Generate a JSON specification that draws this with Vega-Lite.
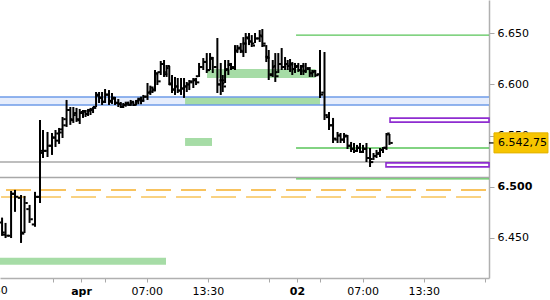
{
  "$schema": "https://vega.github.io/schema/vega-lite/v6.json",
  "width": 489,
  "height": 278,
  "autosize": {"type": "none"},
  "padding": {"left": 0, "top": 0, "right": 61, "bottom": 22},
  "background": "white",
  "config": {"view": {"stroke": null}, "font": "DejaVu Sans"},
  "datasets": {
    "bars": [
      {"t": -8.41, "o": 6.465, "h": 6.4697, "l": 6.4518, "c": 6.453},
      {"t": -8.04, "o": 6.455, "h": 6.4645, "l": 6.4497, "c": 6.452},
      {"t": -7.45, "o": 6.452, "h": 6.4958, "l": 6.4497, "c": 6.493},
      {"t": -7.03, "o": 6.493, "h": 6.4968, "l": 6.4753, "c": 6.49},
      {"t": -6.39, "o": 6.489, "h": 6.4918, "l": 6.4449, "c": 6.454},
      {"t": -6.02, "o": 6.455, "h": 6.4909, "l": 6.4546, "c": 6.484},
      {"t": -5.48, "o": 6.478, "h": 6.4821, "l": 6.4645, "c": 6.468},
      {"t": -4.9, "o": 6.463, "h": 6.4949, "l": 6.4607, "c": 6.49},
      {"t": -4.37, "o": 6.49, "h": 6.5652, "l": 6.484, "c": 6.535},
      {"t": -4.05, "o": 6.533, "h": 6.5554, "l": 6.528, "c": 6.535},
      {"t": -3.57, "o": 6.535, "h": 6.5535, "l": 6.529, "c": 6.54},
      {"t": -3.09, "o": 6.54, "h": 6.5525, "l": 6.531, "c": 6.548},
      {"t": -2.72, "o": 6.548, "h": 6.5554, "l": 6.5388, "c": 6.552},
      {"t": -2.34, "o": 6.545, "h": 6.5574, "l": 6.5418, "c": 6.556},
      {"t": -1.97, "o": 6.553, "h": 6.5681, "l": 6.5476, "c": 6.566},
      {"t": -1.54, "o": 6.56, "h": 6.5848, "l": 6.5584, "c": 6.575},
      {"t": -1.14, "o": 6.575, "h": 6.5779, "l": 6.5604, "c": 6.565},
      {"t": -0.82, "o": 6.566, "h": 6.5779, "l": 6.5623, "c": 6.572},
      {"t": -0.48, "o": 6.57, "h": 6.577, "l": 6.5633, "c": 6.565},
      {"t": -0.14, "o": 6.566, "h": 6.576, "l": 6.5613, "c": 6.573},
      {"t": 0.21, "o": 6.572, "h": 6.575, "l": 6.5672, "c": 6.574},
      {"t": 0.48, "o": 6.573, "h": 6.575, "l": 6.5681, "c": 6.571},
      {"t": 0.75, "o": 6.571, "h": 6.576, "l": 6.5691, "c": 6.575},
      {"t": 1.01, "o": 6.574, "h": 6.577, "l": 6.5701, "c": 6.576},
      {"t": 1.28, "o": 6.575, "h": 6.5779, "l": 6.572, "c": 6.577},
      {"t": 1.6, "o": 6.578, "h": 6.5926, "l": 6.5779, "c": 6.59},
      {"t": 1.92, "o": 6.589, "h": 6.5926, "l": 6.5818, "c": 6.587},
      {"t": 2.24, "o": 6.587, "h": 6.5926, "l": 6.5799, "c": 6.583},
      {"t": 2.56, "o": 6.583, "h": 6.5955, "l": 6.5818, "c": 6.59},
      {"t": 2.98, "o": 6.59, "h": 6.5945, "l": 6.5799, "c": 6.583},
      {"t": 3.3, "o": 6.584, "h": 6.5916, "l": 6.5809, "c": 6.587},
      {"t": 3.62, "o": 6.586, "h": 6.5877, "l": 6.5799, "c": 6.582},
      {"t": 3.97, "o": 6.582, "h": 6.5857, "l": 6.5779, "c": 6.581},
      {"t": 4.23, "o": 6.581, "h": 6.5828, "l": 6.577, "c": 6.578},
      {"t": 4.5, "o": 6.578, "h": 6.5818, "l": 6.577, "c": 6.58},
      {"t": 4.76, "o": 6.58, "h": 6.5831, "l": 6.5782, "c": 6.582},
      {"t": 5.04, "o": 6.581, "h": 6.5831, "l": 6.5792, "c": 6.58},
      {"t": 5.29, "o": 6.58, "h": 6.5848, "l": 6.5792, "c": 6.583},
      {"t": 5.57, "o": 6.582, "h": 6.5831, "l": 6.5789, "c": 6.58},
      {"t": 5.86, "o": 6.58, "h": 6.5848, "l": 6.5799, "c": 6.584},
      {"t": 6.1, "o": 6.583, "h": 6.587, "l": 6.5806, "c": 6.586},
      {"t": 6.39, "o": 6.585, "h": 6.588, "l": 6.5806, "c": 6.584},
      {"t": 6.63, "o": 6.584, "h": 6.5897, "l": 6.5831, "c": 6.588},
      {"t": 7.08, "o": 6.588, "h": 6.6014, "l": 6.5848, "c": 6.592},
      {"t": 7.38, "o": 6.592, "h": 6.5988, "l": 6.5897, "c": 6.597},
      {"t": 7.61, "o": 6.593, "h": 6.5965, "l": 6.5916, "c": 6.594},
      {"t": 7.88, "o": 6.595, "h": 6.6141, "l": 6.5936, "c": 6.611},
      {"t": 8.13, "o": 6.61, "h": 6.6112, "l": 6.5994, "c": 6.603},
      {"t": 8.49, "o": 6.612, "h": 6.6229, "l": 6.6092, "c": 6.62},
      {"t": 8.84, "o": 6.62, "h": 6.6239, "l": 6.6073, "c": 6.61},
      {"t": 9.11, "o": 6.612, "h": 6.619, "l": 6.6073, "c": 6.618},
      {"t": 9.4, "o": 6.616, "h": 6.618, "l": 6.5994, "c": 6.601},
      {"t": 9.69, "o": 6.6, "h": 6.6092, "l": 6.5916, "c": 6.595},
      {"t": 10.01, "o": 6.595, "h": 6.6073, "l": 6.5897, "c": 6.598},
      {"t": 10.3, "o": 6.598, "h": 6.6063, "l": 6.5916, "c": 6.594},
      {"t": 10.65, "o": 6.594, "h": 6.6063, "l": 6.5897, "c": 6.596},
      {"t": 10.97, "o": 6.596, "h": 6.6063, "l": 6.5868, "c": 6.598},
      {"t": 11.26, "o": 6.598, "h": 6.6024, "l": 6.5926, "c": 6.6},
      {"t": 11.53, "o": 6.6, "h": 6.6043, "l": 6.5945, "c": 6.603},
      {"t": 11.96, "o": 6.602, "h": 6.6063, "l": 6.5965, "c": 6.605},
      {"t": 12.25, "o": 6.604, "h": 6.6063, "l": 6.5994, "c": 6.602},
      {"t": 12.57, "o": 6.608, "h": 6.621, "l": 6.6073, "c": 6.617},
      {"t": 13.02, "o": 6.617, "h": 6.6258, "l": 6.6141, "c": 6.622},
      {"t": 13.39, "o": 6.622, "h": 6.6307, "l": 6.6112, "c": 6.614},
      {"t": 13.74, "o": 6.614, "h": 6.6307, "l": 6.6141, "c": 6.626},
      {"t": 14.03, "o": 6.625, "h": 6.6268, "l": 6.6112, "c": 6.617},
      {"t": 14.52, "o": 6.617, "h": 6.6454, "l": 6.5916, "c": 6.6},
      {"t": 14.88, "o": 6.6, "h": 6.621, "l": 6.5897, "c": 6.604},
      {"t": 15.09, "o": 6.604, "h": 6.6092, "l": 6.5926, "c": 6.598},
      {"t": 15.34, "o": 6.601, "h": 6.6239, "l": 6.6014, "c": 6.615},
      {"t": 15.69, "o": 6.614, "h": 6.6239, "l": 6.6092, "c": 6.62},
      {"t": 15.97, "o": 6.619, "h": 6.621, "l": 6.6141, "c": 6.616},
      {"t": 16.4, "o": 6.617, "h": 6.6385, "l": 6.6141, "c": 6.633},
      {"t": 16.65, "o": 6.633, "h": 6.6385, "l": 6.6307, "c": 6.636},
      {"t": 17.01, "o": 6.635, "h": 6.6405, "l": 6.6307, "c": 6.632},
      {"t": 17.29, "o": 6.633, "h": 6.6463, "l": 6.6268, "c": 6.64},
      {"t": 17.54, "o": 6.64, "h": 6.6503, "l": 6.6307, "c": 6.645},
      {"t": 17.89, "o": 6.646, "h": 6.6503, "l": 6.6385, "c": 6.642},
      {"t": 18.18, "o": 6.642, "h": 6.6483, "l": 6.6366, "c": 6.638},
      {"t": 18.53, "o": 6.64, "h": 6.6503, "l": 6.6405, "c": 6.645},
      {"t": 19.03, "o": 6.645, "h": 6.6532, "l": 6.6415, "c": 6.647},
      {"t": 19.31, "o": 6.648, "h": 6.6542, "l": 6.6366, "c": 6.64},
      {"t": 19.73, "o": 6.638, "h": 6.6385, "l": 6.6219, "c": 6.626},
      {"t": 19.99, "o": 6.627, "h": 6.6337, "l": 6.6043, "c": 6.61},
      {"t": 20.42, "o": 6.609, "h": 6.6239, "l": 6.6073, "c": 6.618},
      {"t": 20.69, "o": 6.617, "h": 6.6307, "l": 6.6024, "c": 6.608},
      {"t": 21.01, "o": 6.612, "h": 6.6307, "l": 6.6112, "c": 6.62},
      {"t": 21.37, "o": 6.62, "h": 6.6356, "l": 6.6141, "c": 6.617},
      {"t": 21.73, "o": 6.617, "h": 6.6268, "l": 6.6141, "c": 6.62},
      {"t": 22.01, "o": 6.62, "h": 6.6239, "l": 6.6141, "c": 6.618},
      {"t": 22.26, "o": 6.618, "h": 6.6249, "l": 6.6122, "c": 6.62},
      {"t": 22.5, "o": 6.619, "h": 6.6219, "l": 6.6092, "c": 6.615},
      {"t": 22.79, "o": 6.615, "h": 6.621, "l": 6.6112, "c": 6.618},
      {"t": 23.14, "o": 6.617, "h": 6.621, "l": 6.6122, "c": 6.614},
      {"t": 23.43, "o": 6.614, "h": 6.619, "l": 6.6092, "c": 6.618},
      {"t": 23.68, "o": 6.617, "h": 6.621, "l": 6.6092, "c": 6.613},
      {"t": 23.93, "o": 6.613, "h": 6.621, "l": 6.6112, "c": 6.616},
      {"t": 24.36, "o": 6.615, "h": 6.617, "l": 6.6073, "c": 6.611},
      {"t": 24.63, "o": 6.611, "h": 6.6141, "l": 6.6073, "c": 6.613},
      {"t": 24.95, "o": 6.612, "h": 6.6141, "l": 6.6073, "c": 6.609},
      {"t": 25.45, "o": 6.61, "h": 6.6337, "l": 6.5867, "c": 6.59},
      {"t": 25.93, "o": 6.592, "h": 6.6317, "l": 6.5652, "c": 6.57},
      {"t": 26.41, "o": 6.568, "h": 6.573, "l": 6.5554, "c": 6.56},
      {"t": 26.84, "o": 6.56, "h": 6.5672, "l": 6.5427, "c": 6.547},
      {"t": 27.32, "o": 6.546, "h": 6.5535, "l": 6.5427, "c": 6.55},
      {"t": 27.64, "o": 6.55, "h": 6.5525, "l": 6.5427, "c": 6.546},
      {"t": 28.01, "o": 6.546, "h": 6.5525, "l": 6.5427, "c": 6.55},
      {"t": 28.38, "o": 6.549, "h": 6.5505, "l": 6.5368, "c": 6.54},
      {"t": 28.76, "o": 6.54, "h": 6.5437, "l": 6.5339, "c": 6.537},
      {"t": 29.07, "o": 6.537, "h": 6.5427, "l": 6.5329, "c": 6.535},
      {"t": 29.39, "o": 6.535, "h": 6.5408, "l": 6.5339, "c": 6.538},
      {"t": 29.71, "o": 6.538, "h": 6.5427, "l": 6.5329, "c": 6.534},
      {"t": 30.03, "o": 6.534, "h": 6.5408, "l": 6.5329, "c": 6.537},
      {"t": 30.4, "o": 6.537, "h": 6.5427, "l": 6.5241, "c": 6.528},
      {"t": 30.78, "o": 6.528, "h": 6.5378, "l": 6.5192, "c": 6.524},
      {"t": 31.15, "o": 6.527, "h": 6.5329, "l": 6.5261, "c": 6.53},
      {"t": 31.47, "o": 6.53, "h": 6.5359, "l": 6.528, "c": 6.533},
      {"t": 31.84, "o": 6.532, "h": 6.5378, "l": 6.529, "c": 6.536},
      {"t": 32.16, "o": 6.536, "h": 6.5388, "l": 6.5329, "c": 6.538},
      {"t": 32.53, "o": 6.538, "h": 6.5525, "l": 6.5359, "c": 6.552},
      {"t": 32.85, "o": 6.551, "h": 6.5515, "l": 6.5408, "c": 6.54275}
    ],
    "zones": [
      {"kind": "band", "from": -8.63, "to": 43.45, "lo": 6.5799, "hi": 6.5877},
      {"kind": "green", "from": 13.42, "to": 24.97, "lo": 6.6063, "hi": 6.6151},
      {"kind": "green", "from": 11.08, "to": 25.45, "lo": 6.5799, "hi": 6.5877},
      {"kind": "green", "from": 11.08, "to": 13.95, "lo": 6.5398, "hi": 6.5476},
      {"kind": "green", "from": -8.63, "to": 9.05, "lo": 6.4235, "hi": 6.4303},
      {"kind": "purple", "from": 32.91, "to": 43.45, "lo": 6.5631, "hi": 6.567},
      {"kind": "purple", "from": 32.48, "to": 43.45, "lo": 6.5193, "hi": 6.5232}
    ],
    "levels": [
      {"kind": "blue", "from": -8.63, "to": 43.45, "v": 6.5877},
      {"kind": "blue", "from": -8.63, "to": 43.45, "v": 6.5799},
      {"kind": "gray", "from": -8.63, "to": 43.45, "v": 6.5241},
      {"kind": "gray", "from": -8.63, "to": 43.45, "v": 6.509},
      {"kind": "green", "from": 22.9, "to": 43.45, "v": 6.6483},
      {"kind": "green", "from": 22.9, "to": 43.45, "v": 6.5378},
      {"kind": "green", "from": 22.9, "to": 43.45, "v": 6.5075},
      {"kind": "orange", "from": -7.99, "to": 43.45, "v": 6.4967},
      {"kind": "orange2", "from": -8.52, "to": 43.45, "v": 6.4899}
    ],
    "last": [
      {"t0": 43.45, "t1": 43.98, "t2": 49.73, "tx": 44.4, "lo": 6.533, "hi": 6.5526, "p": 6.54275, "label": "6.542,75"}
    ],
    "edge": [
      {"t": -9.5, "v": 6.4037, "label": "13:30"}
    ]
  },
  "layer": [
    {
      "data": {"name": "zones"},
      "transform": [{"filter": "datum.kind == 'band'"}],
      "mark": {"type": "rect", "color": "#e6edfc"},
      "encoding": {
        "x": {
          "field": "from", "type": "quantitative",
          "scale": {"domain": [-8.63, 43.45], "nice": false, "zero": false},
          "axis": {
            "orient": "bottom", "title": null, "grid": false,
            "values": [-3, 0, 2.5, 7, 13.5, 20, 23, 25.5, 30, 36.5, 43],
            "labelExpr": "datum.value == 0 ? 'apr' : datum.value == 23 ? '02' : (datum.value == 7 || datum.value == 30) ? '07:00' : (datum.value == 13.5 || datum.value == 36.5) ? '13:30' : ''",
            "labelFont": "DejaVu Sans", "labelFontSize": 11, "labelColor": "#000000",
            "labelFontWeight": {"condition": {"test": "datum.value == 0 || datum.value == 23", "value": "bold"}, "value": "normal"},
            "labelOverlap": false, "labelFlush": false, "labelBound": false,
            "labelPadding": 3, "tickSize": 4, "tickColor": "#a8a8a8", "tickWidth": 1,
            "domainColor": "#b0b0b0", "domainWidth": 1.5
          }
        },
        "x2": {"field": "to"},
        "y": {
          "field": "lo", "type": "quantitative",
          "scale": {"domain": [6.4106, 6.6826], "nice": false, "zero": false},
          "axis": {
            "orient": "right", "title": null, "grid": false,
            "values": [6.45, 6.5, 6.55, 6.6, 6.65], "format": ".3f",
            "labelFont": "DejaVu Sans", "labelFontSize": 11, "labelColor": "#000000",
            "labelFontWeight": {"condition": {"test": "abs(datum.value - 6.5) < 0.0001", "value": "bold"}, "value": "normal"},
            "labelOverlap": false, "labelPadding": 3, "tickSize": 5, "tickColor": "#a8a8a8",
            "domainColor": "#b0b0b0", "domainWidth": 1.5
          }
        },
        "y2": {"field": "hi"}
      }
    },
    {
      "data": {"name": "zones"},
      "transform": [{"filter": "datum.kind == 'green'"}],
      "mark": {"type": "rect", "color": "#a6dca6"},
      "encoding": {
        "x": {"field": "from", "type": "quantitative"},
        "x2": {"field": "to"},
        "y": {"field": "lo", "type": "quantitative"},
        "y2": {"field": "hi"}
      }
    },
    {
      "data": {"name": "levels"},
      "transform": [{"filter": "datum.kind == 'blue'"}],
      "mark": {"type": "rule", "color": "#6e9be8", "strokeWidth": 1.5},
      "encoding": {
        "x": {"field": "from", "type": "quantitative"},
        "x2": {"field": "to"},
        "y": {"field": "v", "type": "quantitative"}
      }
    },
    {
      "data": {"name": "levels"},
      "transform": [{"filter": "datum.kind == 'gray'"}],
      "mark": {"type": "rule", "color": "#a8a8a8", "strokeWidth": 1.5},
      "encoding": {
        "x": {"field": "from", "type": "quantitative"},
        "x2": {"field": "to"},
        "y": {"field": "v", "type": "quantitative"}
      }
    },
    {
      "data": {"name": "levels"},
      "transform": [{"filter": "datum.kind == 'green'"}],
      "mark": {"type": "rule", "color": "#58c458", "strokeWidth": 1.3},
      "encoding": {
        "x": {"field": "from", "type": "quantitative"},
        "x2": {"field": "to"},
        "y": {"field": "v", "type": "quantitative"}
      }
    },
    {
      "data": {"name": "levels"},
      "transform": [{"filter": "datum.kind == 'orange'"}],
      "mark": {"type": "rule", "color": "#f6b02a", "strokeWidth": 1.5, "strokeDash": [25, 10]},
      "encoding": {
        "x": {"field": "from", "type": "quantitative"},
        "x2": {"field": "to"},
        "y": {"field": "v", "type": "quantitative"}
      }
    },
    {
      "data": {"name": "levels"},
      "transform": [{"filter": "datum.kind == 'orange2'"}],
      "mark": {"type": "rule", "color": "#f8c45a", "strokeWidth": 1.5, "strokeDash": [25, 10]},
      "encoding": {
        "x": {"field": "from", "type": "quantitative"},
        "x2": {"field": "to"},
        "y": {"field": "v", "type": "quantitative"}
      }
    },
    {
      "data": {"name": "zones"},
      "transform": [{"filter": "datum.kind == 'purple'"}],
      "mark": {"type": "rect", "fill": "#ffffff", "stroke": "#8e2cd0", "strokeWidth": 1.6},
      "encoding": {
        "x": {"field": "from", "type": "quantitative"},
        "x2": {"field": "to"},
        "y": {"field": "lo", "type": "quantitative"},
        "y2": {"field": "hi"}
      }
    },
    {
      "data": {"name": "bars"},
      "mark": {"type": "rule", "color": "#000000", "strokeWidth": 2, "strokeCap": "butt"},
      "encoding": {
        "x": {"field": "t", "type": "quantitative"},
        "y": {"field": "l", "type": "quantitative"},
        "y2": {"field": "h"}
      }
    },
    {
      "data": {"name": "bars"},
      "mark": {"type": "tick", "orient": "horizontal", "color": "#000000", "opacity": 1, "size": 2.5, "thickness": 2, "xOffset": -2},
      "encoding": {
        "x": {"field": "t", "type": "quantitative"},
        "y": {"field": "o", "type": "quantitative"}
      }
    },
    {
      "data": {"name": "bars"},
      "mark": {"type": "tick", "orient": "horizontal", "color": "#000000", "opacity": 1, "size": 2.5, "thickness": 2, "xOffset": 2},
      "encoding": {
        "x": {"field": "t", "type": "quantitative"},
        "y": {"field": "c", "type": "quantitative"}
      }
    },
    {
      "data": {"name": "last"},
      "mark": {"type": "rule", "color": "#000000", "strokeWidth": 1.2},
      "encoding": {
        "x": {"field": "t0", "type": "quantitative"},
        "x2": {"field": "t1"},
        "y": {"field": "p", "type": "quantitative"}
      }
    },
    {
      "data": {"name": "last"},
      "mark": {"type": "rect", "fill": "#f7c500", "stroke": "#e2b200", "strokeWidth": 1},
      "encoding": {
        "x": {"field": "t1", "type": "quantitative"},
        "x2": {"field": "t2"},
        "y": {"field": "lo", "type": "quantitative"},
        "y2": {"field": "hi"}
      }
    },
    {
      "data": {"name": "last"},
      "mark": {"type": "text", "align": "left", "baseline": "middle", "font": "DejaVu Sans", "fontSize": 11, "color": "#000000"},
      "encoding": {
        "x": {"field": "tx", "type": "quantitative"},
        "y": {"field": "p", "type": "quantitative"},
        "text": {"field": "label"}
      }
    },
    {
      "data": {"name": "edge"},
      "mark": {"type": "text", "align": "center", "baseline": "top", "font": "DejaVu Sans", "fontSize": 11, "color": "#000000"},
      "encoding": {
        "x": {"field": "t", "type": "quantitative"},
        "y": {"field": "v", "type": "quantitative"},
        "text": {"field": "label"}
      }
    }
  ]
}
